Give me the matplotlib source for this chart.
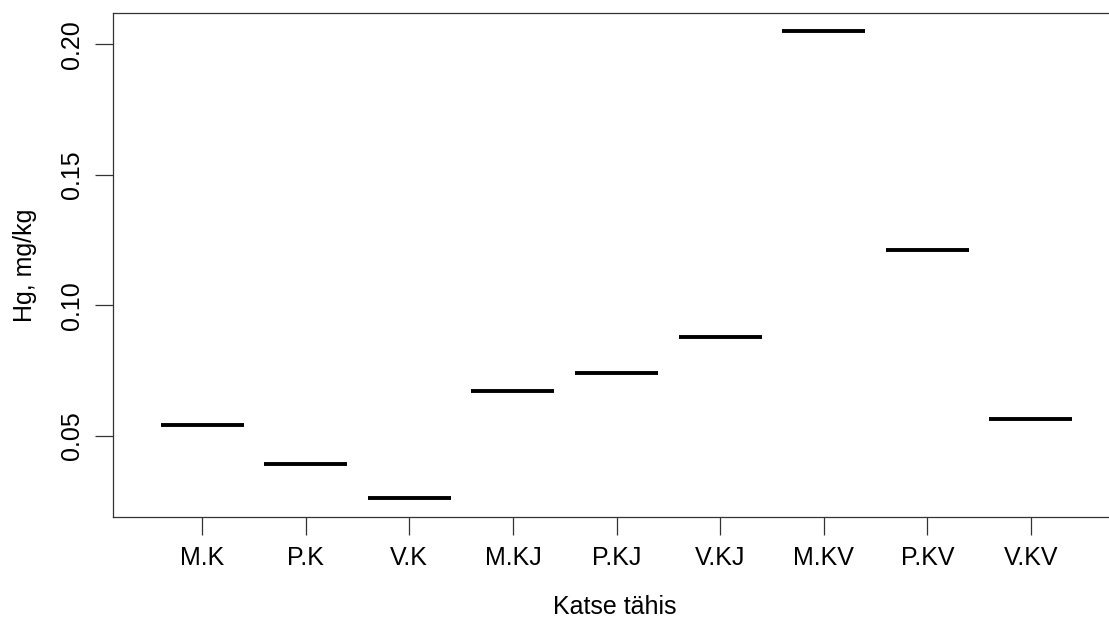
import numpy as np
import matplotlib
matplotlib.use("Agg")
import matplotlib.pyplot as plt

# katse tähised ja Hg sisaldus (mg/kg)
katse = ["M.K", "P.K", "V.K", "M.KJ", "P.KJ", "V.KJ", "M.KV", "P.KV", "V.KV"]
hg = [0.0542, 0.0392, 0.0261, 0.0672, 0.0740, 0.0879, 0.2050, 0.1213, 0.0563]

plt.rcParams['font.family'] = ['Liberation Sans', 'DejaVu Sans']

fig = plt.figure(figsize=(11.09, 6.21), dpi=100)
# parem serv jääb pildist välja
ax = fig.add_axes([113 / 1109, 1 - 517 / 621, 1007 / 1109, (517 - 12.7) / 621])

pos = np.arange(1, len(katse) + 1)
ax.hlines(hg, pos - 0.4, pos + 0.4, colors="black", linewidth=2.8, capstyle="butt")

# R stiilis 4% laiendus
lo, hi = min(hg), max(hg)
ext = (hi - lo) * 0.04
ax.set_ylim(lo - ext, hi + ext)
ax.set_xlim(0.14, len(katse) + 0.86)

ax.set_xticks(pos)
ax.set_xticklabels(katse)
ax.set_yticks([0.05, 0.10, 0.15, 0.20])
ax.set_yticklabels(["0.05", "0.10", "0.15", "0.20"], rotation=90, va="center")

ax.tick_params(axis="both", length=13, width=0.9, color="#333333", labelsize=18)
ax.tick_params(axis="x", pad=8)
ax.tick_params(axis="y", pad=8)
for s in ax.spines.values():
    s.set_linewidth(0.9)
    s.set_color("#333333")
ax.spines["right"].set_visible(False)

fig.text(615 / 1109, 1 - 607 / 621, "Katse tähis", fontsize=18, ha="center", va="center")
fig.text(25 / 1109, 1 - 265 / 621, "Hg, mg/kg", fontsize=18, ha="center", va="center", rotation=90)

fig.savefig("out.png", dpi=100)
